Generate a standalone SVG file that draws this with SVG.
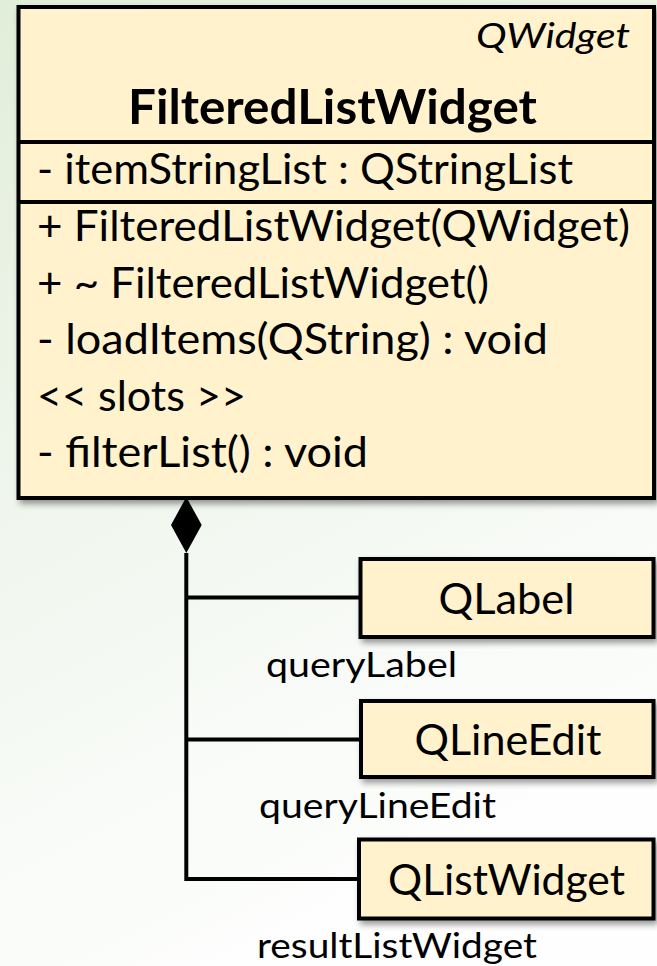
<svg xmlns="http://www.w3.org/2000/svg" width="657" height="966" viewBox="0 0 657 966">
  <defs>
    <linearGradient id="bg" x1="0" y1="0" x2="0.35" y2="1">
      <stop offset="0" stop-color="#e1eed9"/>
      <stop offset="0.55" stop-color="#f2f7f0"/>
      <stop offset="1" stop-color="#fdfefd"/>
    </linearGradient>
    <filter id="shadow" x="-5%" y="-5%" width="115%" height="120%">
      <feDropShadow dx="3" dy="4" stdDeviation="3" flood-color="#000" flood-opacity="0.4"/>
    </filter>
  </defs>
  <style>
    .box { fill: #fff2cc; stroke: #000; stroke-width: 4; }
    .sep { stroke: #000; stroke-width: 4; }
    .line { stroke: #000; stroke-width: 4; fill: none; }
    text { font-family: Lato, "Open Sans", "Liberation Sans", sans-serif; fill: #000; }
    .member { font-size: 42px; }
    .title { font-size: 48px; font-weight: bold; }
    .stereo { font-size: 34px; font-style: italic; }
    .cls { font-size: 43px; }
    .role { font-size: 34px; }
  </style>

  <rect x="0" y="0" width="657" height="966" fill="url(#bg)"/>

  <!-- Main class with compartments -->
  <g id="FilteredListWidget">
    <rect class="box" x="18.5" y="7" width="635.5" height="491" filter="url(#shadow)"/>
    <line class="sep" x1="18.5" y1="142" x2="654" y2="142"/>
    <line class="sep" x1="18.5" y1="202" x2="654" y2="202"/>
    <text class="stereo" x="476" y="48" textLength="154" lengthAdjust="spacingAndGlyphs">QWidget</text>
    <text class="title" x="128" y="124" textLength="409" lengthAdjust="spacingAndGlyphs">FilteredListWidget</text>
    <text class="member" x="37" y="184" textLength="536" lengthAdjust="spacingAndGlyphs">- itemStringList : QStringList</text>
    <text class="member" x="37" y="241" textLength="593" lengthAdjust="spacingAndGlyphs">+ FilteredListWidget(QWidget)</text>
    <text class="member" x="37" y="297.5" textLength="452" lengthAdjust="spacingAndGlyphs">+ ~ FilteredListWidget()</text>
    <text class="member" x="37" y="354" textLength="511" lengthAdjust="spacingAndGlyphs">- loadItems(QString) : void</text>
    <text class="member" x="37" y="410.5" textLength="209" lengthAdjust="spacingAndGlyphs">&lt;&lt; slots &gt;&gt;</text>
    <text class="member" x="37" y="467" textLength="331" lengthAdjust="spacingAndGlyphs">- filterList() : void</text>
  </g>

  <!-- Composition connectors and role names -->
  <g id="connectors">
    <polygon points="186.3,497 171,525 186.3,553 201.7,525" fill="#000"/>
    <path class="line" d="M186.3,553 V879 H359 M186.3,597.5 H360 M186.3,739.5 H360"/>
    <text class="role" x="266" y="677" textLength="191" lengthAdjust="spacingAndGlyphs">queryLabel</text>
    <text class="role" x="259" y="818" textLength="237" lengthAdjust="spacingAndGlyphs">queryLineEdit</text>
    <text class="role" x="257" y="958" textLength="280" lengthAdjust="spacingAndGlyphs">resultListWidget</text>
  </g>

  <g id="QLabel">
    <rect class="box" x="360.5" y="559" width="293" height="78" filter="url(#shadow)"/>
    <text class="cls" x="438.5" y="614" textLength="136" lengthAdjust="spacingAndGlyphs">QLabel</text>
  </g>

  <g id="QLineEdit">
    <rect class="box" x="361" y="701" width="292.5" height="76" filter="url(#shadow)"/>
    <text class="cls" x="414.5" y="755" textLength="187" lengthAdjust="spacingAndGlyphs">QLineEdit</text>
  </g>

  <g id="QListWidget">
    <rect class="box" x="359" y="839.5" width="294.5" height="79" filter="url(#shadow)"/>
    <text class="cls" x="388" y="894.5" textLength="237" lengthAdjust="spacingAndGlyphs">QListWidget</text>
  </g>
</svg>
